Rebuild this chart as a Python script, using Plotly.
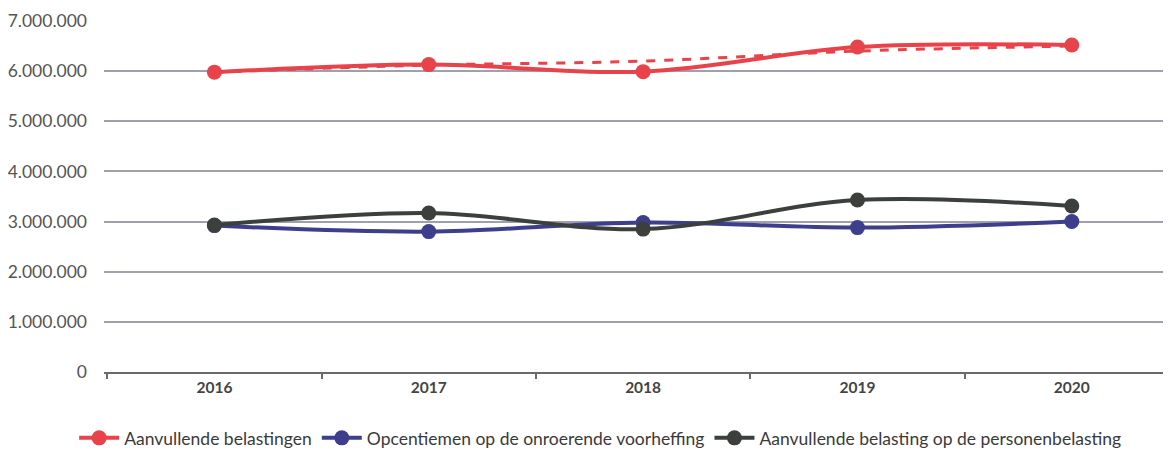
import plotly.graph_objects as go

years = ["2016", "2017", "2018", "2019", "2020"]
aanvullende = [5980000, 6130000, 5990000, 6480000, 6520000]
aanvullende_trend = [5980000, 6120000, 6200000, 6400000, 6500000]
opcentiemen = [2920000, 2800000, 2980000, 2880000, 3000000]
personen = [2930000, 3170000, 2850000, 3430000, 3310000]
y_ticks = [0, 1000000, 2000000, 3000000, 4000000, 5000000, 6000000, 7000000]

RED = "#e8434a"
BLUE = "#3d3f8c"
DARK = "#3b403c"

fig = go.Figure()
fig.add_trace(go.Scatter(
    x=years, y=aanvullende_trend, mode="lines", showlegend=False, hoverinfo="skip",
    line=dict(color=RED, width=3, dash="dash", shape="spline"),
))
fig.add_trace(go.Scatter(
    x=years, y=aanvullende, mode="lines+markers", name="Aanvullende belastingen",
    line=dict(color=RED, width=4, shape="spline"),
    marker=dict(color=RED, size=15),
))
fig.add_trace(go.Scatter(
    x=years, y=opcentiemen, mode="lines+markers", name="Opcentiemen op de onroerende voorheffing",
    line=dict(color=BLUE, width=4, shape="spline"),
    marker=dict(color=BLUE, size=15),
))
fig.add_trace(go.Scatter(
    x=years, y=personen, mode="lines+markers", name="Aanvullende belasting op de personenbelasting",
    line=dict(color=DARK, width=4, shape="spline"),
    marker=dict(color=DARK, size=15),
))

fig.update_layout(
    width=1171, height=442,
    margin=dict(l=96, r=0, t=13, b=78, autoexpand=False),
    paper_bgcolor="white", plot_bgcolor="white",
    separators=",.",
    font=dict(family="Lato, 'Open Sans', sans-serif", color="#4a4a4a", size=14),
    legend=dict(orientation="h", x=0.462, xanchor="center", y=-0.188, yanchor="middle",
                font=dict(size=17.5, color="#3a3a3a"), itemwidth=40, traceorder="normal"),
    xaxis=dict(
        type="category", range=[-0.515, 4.5], showgrid=False, automargin=False,
        showline=True, linecolor="#6a6a6a", linewidth=2,
        ticks="outside", tickson="boundaries", ticklen=5, tickcolor="#6a6a6a", tickwidth=2,
        tickfont=dict(size=15.5, color="#444", family="Lato, sans-serif", weight="bold"),
        zeroline=False,
    ),
    yaxis=dict(
        range=[0, 7000000], tickvals=y_ticks, tickformat=",d", automargin=False,
        showgrid=True, gridcolor="#a0a0ac", gridwidth=1.5,
        zeroline=False, showline=False, ticks="",
        tickfont=dict(size=17.5, color="#555"), ticklabelstandoff=16,
    ),
)

fig.write_html("out.html")
